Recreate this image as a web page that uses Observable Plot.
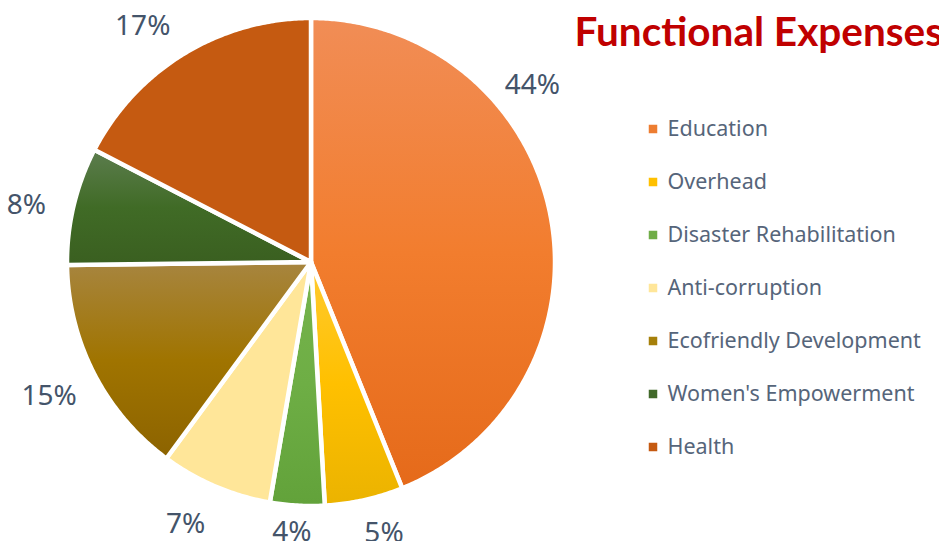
<!DOCTYPE html>
<html><head><meta charset="utf-8">
<script src="https://cdn.jsdelivr.net/npm/d3@7"></script>
<script src="https://cdn.jsdelivr.net/npm/@observablehq/plot@0.6"></script>
<style>html,body{margin:0;padding:0;background:#fff;overflow:hidden}</style>
</head><body><div id="chart"></div>
<script>
// ---- data ----
const categories = ["Education", "Overhead", "Disaster Rehabilitation", "Anti-corruption", "Ecofriendly Development", "Women's Empowerment", "Health"];
const shares = [43.9, 5.2, 3.6, 7.4, 14.7, 7.8, 17.4];
const shareLabels = ["44%", "5%", "4%", "7%", "15%", "8%", "17%"];
const title = "Functional Expenses";

// ---- styles ----
const sliceGradients = [
  ["#F18D56", "#F27D2E", "#E56A1A"],
  ["#FFCA30", "#FFC000", "#EBB300"],
  ["#76B34C", "#6EAE45", "#62A23A"],
  ["#FFE699", "#FFE699", "#FFE699"],
  ["#A7853F", "#A07400", "#8C6300"],
  ["#5C7D4E", "#406B26", "#3A5F20"],
  ["#C55A11", "#C55A11", "#C55A11"]
];
const legendColors = ["#ED7D31", "#FFC000", "#70AD47", "#FFE699", "#A6800A", "#41692A", "#C55A11"];

// ---- layout ----
const W = 939, H = 541;
const cx = 310.5, cy = 261.5, R = 244;
const labelPad = 23;
const labelNudge = {
  "Education": {angle: -27.6, dist: -10},
  "Health": {angle: -4.2, dist: 0},
  "Women's Empowerment": {angle: -2, dist: 4},
  "Anti-corruption": {angle: 2.5, dist: 8},
  "Overhead": {angle: -2.5, dist: 0},
  "Disaster Rehabilitation": {angle: 0.8, dist: -6}
};
const legendX = 652.5, legendTextX = 667, legendY0 = 128.5, legendStep = 53;

const pie = d3.pie().sort(null).value(d => d)(shares);
const toXY = (a, r) => ({x: cx + r * Math.sin(a), y: cy - r * Math.cos(a)});

const slices = pie.map((p, i) => {
  const pts = [toXY(0, 0)];
  const n = Math.max(2, Math.ceil((p.endAngle - p.startAngle) / (Math.PI / 360)));
  for (let k = 0; k <= n; k++) pts.push(toXY(p.startAngle + (p.endAngle - p.startAngle) * k / n, R));
  return pts;
});

const labelData = pie.map((p, i) => {
  const nudge = labelNudge[categories[i]] || {angle: 0, dist: 0};
  const a = (p.startAngle + p.endAngle) / 2 + nudge.angle * Math.PI / 180;
  const t = shareLabels[i];
  const w = ((t.length - 1) * 0.57 + 0.83) * 28;
  const h = 21;
  const d = 242 + labelPad + Math.abs(Math.sin(a)) * w / 2 + Math.abs(Math.cos(a)) * h / 2 + nudge.dist;
  return {...toXY(a, d), text: t};
});

const legendData = categories.map((c, i) => ({name: c, color: legendColors[i], x: legendX, tx: legendTextX, y: legendY0 + i * legendStep}));

const defsMark = () => {
  const defs = d3.create("svg:defs");
  sliceGradients.forEach((stops, i) => {
    const g = defs.append("linearGradient").attr("id", `g${i}`).attr("x1", 0).attr("y1", 0).attr("x2", 0).attr("y2", 1);
    stops.forEach((c, j) => g.append("stop").attr("offset", j / (stops.length - 1)).attr("stop-color", c));
  });
  return defs.node();
};

const chart = Plot.plot({
  width: W, height: H,
  margin: 0,
  x: {domain: [0, W], range: [0, W], axis: null},
  y: {domain: [0, H], range: [0, H], axis: null},
  color: {type: "identity"},
  style: {fontFamily: "Noto Sans", background: "white", overflow: "hidden"},
  marks: [
    defsMark,
    ...slices.map((pts, i) => Plot.line(pts, {
      x: "x", y: "y", curve: "linear-closed",
      fill: `url(#g${i})`, stroke: "white", strokeWidth: 4.5, strokeLinejoin: "round"
    })),
    Plot.text(labelData, {x: "x", y: "y", text: "text", fontSize: 28, fill: "#44546A", textAnchor: "middle", lineAnchor: "middle", fontFamily: "Noto Sans"}),
    Plot.dot(legendData, {x: "x", y: "y", symbol: "square", r: 4.8, fill: "color", stroke: null}),
    Plot.text(legendData, {x: "tx", y: "y", text: "name", fontSize: 21.5, fill: "#56657A", textAnchor: "start", lineAnchor: "middle", fontFamily: "Noto Sans"}),
    Plot.text([title], {frameAnchor: "top-left", dx: 574, dy: 17, text: d => d, fontSize: 40.5, fontWeight: "bold", fill: "#C00000", textAnchor: "start", lineAnchor: "top", fontFamily: "Lato"})
  ]
});
document.getElementById("chart").append(chart);
</script>
</body></html>
